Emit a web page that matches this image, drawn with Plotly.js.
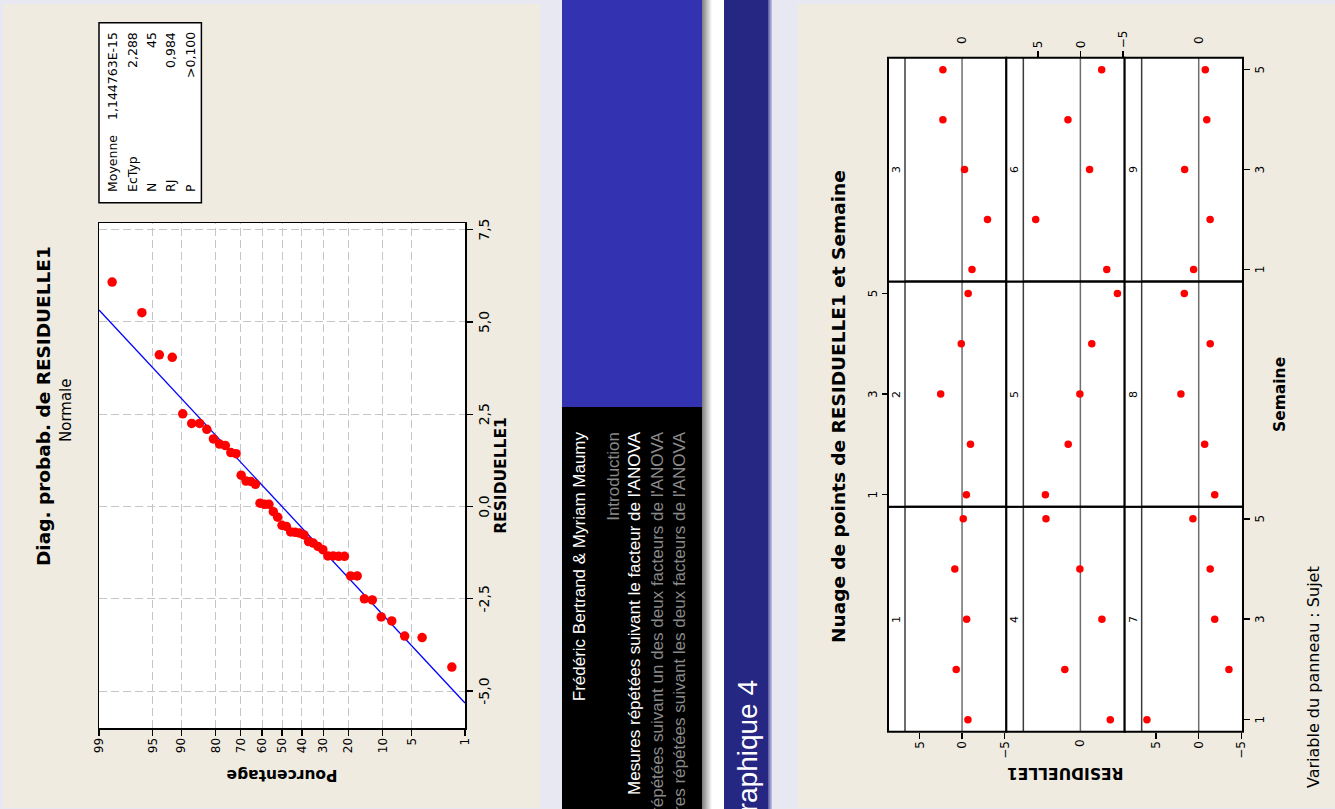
<!DOCTYPE html>
<html><head><meta charset="utf-8">
<script src="https://cdn.plot.ly/plotly-3.0.1.min.js"></script>
<style>
html,body{margin:0;padding:0;background:#e8e8f2;overflow:hidden;width:1335px;height:809px;}
#page{position:absolute;left:0;top:0;width:809px;height:1335px;transform-origin:0 0;transform:translateY(809px) rotate(-90deg);background:#e8e8f2;overflow:hidden;}
.abs{position:absolute;}
.chart{outline:1px solid #4a4a4a;outline-offset:-1px;}
.hline{position:absolute;right:25px;white-space:nowrap;font-family:"Liberation Sans",Arial,sans-serif;font-size:17px;line-height:20px;}
</style></head><body>
<div id="page">
  <div id="c1" class="abs chart" style="left:1px;top:3px;width:804px;height:537px;"></div>

  <div class="abs" style="left:0;top:562px;width:402px;height:140px;background:#000;overflow:hidden;">
    <div class="hline" style="top:8px;color:#fff;">Frédéric Bertrand &amp; Myriam Maumy</div>
    <div class="hline" style="top:42px;color:#8a8a8a;">Introduction</div>
    <div class="hline" style="top:63px;color:#fff;">Mesures répétées suivant le facteur de l'ANOVA</div>
    <div class="hline" style="top:86px;color:#8a8a8a;">Mesures répétées suivant un des deux facteurs de l'ANOVA</div>
    <div class="hline" style="top:108px;color:#8a8a8a;">Mesures répétées suivant les deux facteurs de l'ANOVA</div>
  </div>
  <div class="abs" style="left:402px;top:562px;width:407px;height:140px;background:#3333b2;"></div>
  <div class="abs" style="left:0;top:702px;width:809px;height:10px;background:linear-gradient(to bottom,#7c7c7c,#ffffff);"></div>
  <div class="abs" style="left:0;top:712px;width:809px;height:12px;background:#ffffff;"></div>
  <div class="abs" style="left:0;top:724px;width:809px;height:44px;background:#262683;overflow:hidden;">
    <div class="abs" style="left:-200px;width:329px;top:2px;height:44px;line-height:44px;text-align:right;color:#fff;font-family:'Liberation Sans',Arial,sans-serif;font-size:28px;white-space:nowrap;">Graphique 4</div>
  </div>
  <div class="abs" style="left:0;top:768px;width:809px;height:4px;background:linear-gradient(to bottom,#5656a8,#c8c8e4);"></div>

  <div id="c2" class="abs chart" style="left:1px;top:798px;width:804px;height:537px;"></div>
</div>
<script>
// ---------------- data ----------------
const SEMAINES = [1, 2, 3, 4, 5];
const SUJETS = ['1','2','3','4','5','6','7','8','9'];
// RESIDUELLE1 by week (Semaine 1..5) for each Sujet
const SUJET1 = [-0.69, 0.69, -0.54, 0.85, -0.14];
const SUJET2 = [-0.51, -0.99, 2.51, 0.09, -0.72];
const SUJET3 = [-1.17, -2.99, -0.29, 2.25, 2.25];
const SUJET4 = [-3.51, 1.83, -2.53, 0.06, 4.04];
const SUJET5 = [4.11, 1.43, 0.06, -1.34, -4.35];
const SUJET6 = [-3.10, 5.25, -1.08, 1.46, -2.50];
const SUJET7 = [6.08, -3.55, -1.88, -1.35, 0.68];
const SUJET8 = [-1.88, -0.70, 2.09, -1.35, 1.69];
const SUJET9 = [0.60, -1.34, 1.65, -0.95, -0.77];

const STAT_LABELS = ['Moyenne', 'EcTyp', 'N', 'RJ', 'P'];
const STAT_VALUES = ['1,144763E-15', '2,288', '45', '0,984', '>0,100'];
const MOYENNE = 1.144763e-15;
const ECTYP = 2.288;

const X_TICKS = [-5, -2.5, 0, 2.5, 5, 7.5];
const X_TICKTEXT = ['-5,0', '-2,5', '0,0', '2,5', '5,0', '7,5'];
const PCT_TICKS = [1, 5, 10, 20, 30, 40, 50, 60, 70, 80, 90, 95, 99];
const WEEK_TICKS = [1, 3, 5];
const RES_TICKS = [-5, 0, 5];

// ---------------- helpers ----------------
function qnorm(p){
  const a=[-3.969683028665376e+01,2.209460984245205e+02,-2.759285104469687e+02,1.383577518672690e+02,-3.066479806614716e+01,2.506628277459239e+00];
  const b=[-5.447609879822406e+01,1.615858368580409e+02,-1.556989798598866e+02,6.680131188771972e+01,-1.328068155288572e+01];
  const c=[-7.784894002430293e-03,-3.223964580411365e-01,-2.400758277161838e+00,-2.549732539343734e+00,4.374664141464968e+00,2.938163982698783e+00];
  const d=[7.784695709041462e-03,3.224671290700398e-01,2.445134137142996e+00,3.754408661907416e+00];
  const pl=0.02425, ph=1-pl; let q, r;
  if(p<pl){q=Math.sqrt(-2*Math.log(p));return (((((c[0]*q+c[1])*q+c[2])*q+c[3])*q+c[4])*q+c[5])/((((d[0]*q+d[1])*q+d[2])*q+d[3])*q+1);}
  if(p<=ph){q=p-0.5;r=q*q;return (((((a[0]*r+a[1])*r+a[2])*r+a[3])*r+a[4])*r+a[5])*q/(((((b[0]*r+b[1])*r+b[2])*r+b[3])*r+b[4])*r+1);}
  q=Math.sqrt(-2*Math.log(1-p));return -(((((c[0]*q+c[1])*q+c[2])*q+c[3])*q+c[4])*q+c[5])/((((d[0]*q+d[1])*q+d[2])*q+d[3])*q+1);
}
const FONT = 'DejaVu Sans, Verdana, sans-serif';
const SUBJ = [SUJET1,SUJET2,SUJET3,SUJET4,SUJET5,SUJET6,SUJET7,SUJET8,SUJET9];

// ---------------- chart 1 : normal probability plot ----------------
const residus = [].concat(...SUBJ).sort((a,b)=>a-b);
const n = residus.length;
// Minitab median-rank plotting positions, on the normal-quantile axis
const zpos = residus.map((v,i)=>qnorm((i+1-0.3)/(n+0.4)));
const zlo = qnorm(0.01), zhi = qnorm(0.99);

const W1=804, H1=537, L1=80, R1=219, T1=96, B1=75;
const PW1=W1-L1-R1, PH1=H1-T1-B1;
const p1x = u => (u-L1)/PW1;
const p1y = v => 1-(v-T1)/PH1;

const tr1 = [
  {x:[MOYENNE+ECTYP*zlo, MOYENNE+ECTYP*zhi], y:[zlo, zhi], type:'scatter', mode:'lines',
   line:{color:'#0000ff', width:1.3}, hoverinfo:'skip'},
  {x:residus, y:zpos, type:'scatter', mode:'markers', marker:{color:'#ff0000', size:9.5}, cliponaxis:false}
];
const axCommon = {ticks:'outside', ticklen:6, tickwidth:1.2, tickcolor:'#000', showline:true, mirror:true,
  linecolor:'#000', linewidth:1.5, showgrid:true, gridcolor:'#c6c6c6', gridwidth:1, griddash:'8px,4px',
  zeroline:false, automargin:false};
const ann1 = [
  {text:'<b>Diag. probab. de RESIDUELLE1</b>', x:p1x(402), y:p1y(40), xref:'paper', yref:'paper', showarrow:false,
   xanchor:'center', yanchor:'middle', font:{size:18.5, family:FONT, color:'#000'}},
  {text:'Normale', x:p1x(398), y:p1y(63), xref:'paper', yref:'paper', showarrow:false,
   xanchor:'center', yanchor:'middle', font:{size:15, family:FONT, color:'#000'}}
];
const STAT_V = [109.5, 129, 148.5, 167.5, 187];
STAT_LABELS.forEach((t,i)=>{
  ann1.push({text:t, x:p1x(615), y:p1y(STAT_V[i]), xref:'paper', yref:'paper', showarrow:false,
    xanchor:'left', yanchor:'middle', borderpad:0, font:{size:12.5, family:FONT, color:'#000'}});
  ann1.push({text:STAT_VALUES[i], x:p1x(777), y:p1y(STAT_V[i]), xref:'paper', yref:'paper', showarrow:false,
    xanchor:'right', yanchor:'middle', borderpad:0, font:{size:12.5, family:FONT, color:'#000'}});
});
const lay1 = {
  width:W1, height:H1, margin:{l:L1, r:R1, t:T1, b:B1, pad:0},
  paper_bgcolor:'#efebe1', plot_bgcolor:'#ffffff', showlegend:false,
  font:{family:FONT, size:13, color:'#000'},
  xaxis:Object.assign({}, axCommon, {range:[-6.0, 7.68], tickvals:X_TICKS, ticktext:X_TICKTEXT,
    tickfont:{size:14, family:FONT, color:'#000'},
    title:{text:'<b>RESIDUELLE1</b>', font:{size:15.5, family:FONT, color:'#000'}, standoff:4}}),
  yaxis:Object.assign({}, axCommon, {range:[zlo, zhi], tickvals:PCT_TICKS.map(p=>qnorm(p/100)),
    ticktext:PCT_TICKS.map(String), tickfont:{size:12, family:FONT, color:'#000'},
    title:{text:'<b>Pourcentage</b>', font:{size:15.5, family:FONT, color:'#000'}, standoff:12}}),
  shapes:[{type:'rect', xref:'paper', yref:'paper', x0:p1x(605.3), x1:p1x(785.3), y0:p1y(96), y1:p1y(198.4),
    line:{color:'#000', width:1.5}, fillcolor:'#ffffff', layer:'below'}],
  annotations:ann1
};
Plotly.newPlot('c1', tr1, lay1, {staticPlot:true, displayModeBar:false});

// ---------------- chart 2 : panel scatter ----------------
const W2=804, H2=537;
const COLS=[76.3, 301.3, 526.5, 750.3];
const GTOP=90, ROWH=118.33, STRIPH=17;
const fx = u => u/W2;
const fy = v => 1-v/H2;
const tr2=[], shapes2=[], ann2=[];
const lay2 = {width:W2, height:H2, margin:{l:0,r:0,t:0,b:0,pad:0}, paper_bgcolor:'#efebe1', plot_bgcolor:'#ffffff',
  showlegend:false, font:{family:FONT, size:12, color:'#000'}};
SUBJ.forEach((ys,i)=>{
  const row=Math.floor(i/3), col=i%3, sfx=(i===0?'':String(i+1));
  const top=GTOP+row*ROWH, dTop=top+STRIPH, bot=top+ROWH;
  tr2.push({x:SEMAINES, y:ys, xaxis:'x'+sfx, yaxis:'y'+sfx, type:'scatter', mode:'markers',
    marker:{color:'#ff0000', size:7.5}, cliponaxis:false});
  const showX = (row===2 && col!==1) || (row===0 && col===1);
  const xa = {domain:[fx(COLS[col]), fx(COLS[col+1])], range:[0.76, 5.24], anchor:'y'+sfx,
    showgrid:false, zeroline:false, showline:false, tickvals:WEEK_TICKS, ticks:showX?'outside':'',
    ticklen:6, tickwidth:1.5, tickcolor:'#000', showticklabels:showX, tickfont:{size:12, family:FONT, color:'#000'}};
  if(row===0 && col===1){ xa.side='top'; xa.anchor='free'; xa.position=fy(GTOP); }
  const showY = (col===0 && row!==1) || (col===2 && row===1);
  const ya = {domain:[fy(bot), fy(dTop)], range:[-5.2, 6.7], anchor:'x'+sfx,
    showgrid:false, zeroline:false, showline:false, tickvals:RES_TICKS, ticks:showY?'outside':'',
    ticklen:6, tickwidth:1.5, tickcolor:'#000', showticklabels:showY, tickfont:{size:12, family:FONT, color:'#000'}};
  if(col===2 && row===1){ ya.side='right'; }
  lay2['xaxis'+sfx]=xa; lay2['yaxis'+sfx]=ya;
  // reference line at 0
  shapes2.push({type:'line', xref:'x'+sfx+' domain', x0:0, x1:1, yref:'y'+sfx, y0:0, y1:0,
    line:{color:'#6e6e6e', width:1.5}, layer:'below'});
  // strip
  shapes2.push({type:'rect', xref:'paper', yref:'paper', x0:fx(COLS[col]), x1:fx(COLS[col+1]), y0:fy(dTop), y1:fy(top),
    fillcolor:'#ffffff', line:{width:0}, layer:'above'});
  shapes2.push({type:'line', xref:'paper', yref:'paper', x0:fx(COLS[col]), x1:fx(COLS[col+1]), y0:fy(dTop), y1:fy(dTop),
    line:{color:'#3c3c3c', width:1.5}, layer:'above'});
  shapes2.push({type:'rect', xref:'paper', yref:'paper', x0:fx(COLS[col]), x1:fx(COLS[col+1]), y0:fy(bot), y1:fy(top),
    line:{color:'#000', width:2}, fillcolor:'rgba(0,0,0,0)', layer:'above'});
  ann2.push({text:SUJETS[i], xref:'paper', yref:'paper', x:fx((COLS[col]+COLS[col+1])/2), y:fy(top+STRIPH/2),
    showarrow:false, xanchor:'center', yanchor:'middle', font:{size:11, family:FONT, color:'#000'}});
});
// reference-line value labels
[['3',1,18],['9',1,18],['4',0,-11]].forEach(([s,xd,sh])=>{
  ann2.push({text:'0', xref:'x'+s+' domain', x:xd, xshift:sh, yref:'y'+s, y:0, showarrow:false,
    xanchor:'center', yanchor:'middle', font:{size:12, family:FONT, color:'#000'}});
});
ann2.push({text:'<b>Nuage de points de RESIDUELLE1 et Semaine</b>', xref:'paper', yref:'paper', x:fx(401.5), y:fy(41),
  showarrow:false, xanchor:'center', yanchor:'middle', font:{size:18.5, family:FONT, color:'#000'}});
ann2.push({text:'<b>Semaine</b>', xref:'paper', yref:'paper', x:fx(413), y:fy(482),
  showarrow:false, xanchor:'center', yanchor:'middle', font:{size:15.5, family:FONT, color:'#000'}});
ann2.push({text:'<b>RESIDUELLE1</b>', xref:'paper', yref:'paper', x:fx(35), y:fy(267.5), textangle:-90,
  showarrow:false, xanchor:'center', yanchor:'middle', font:{size:15.5, family:FONT, color:'#000'}});
ann2.push({text:'Variable du panneau : Sujet', xref:'paper', yref:'paper', x:fx(18), y:fy(515),
  showarrow:false, xanchor:'left', yanchor:'middle', font:{size:16, family:FONT, color:'#000'}});
lay2.shapes=shapes2; lay2.annotations=ann2;
Plotly.newPlot('c2', tr2, lay2, {staticPlot:true, displayModeBar:false});
</script>
</body></html>
